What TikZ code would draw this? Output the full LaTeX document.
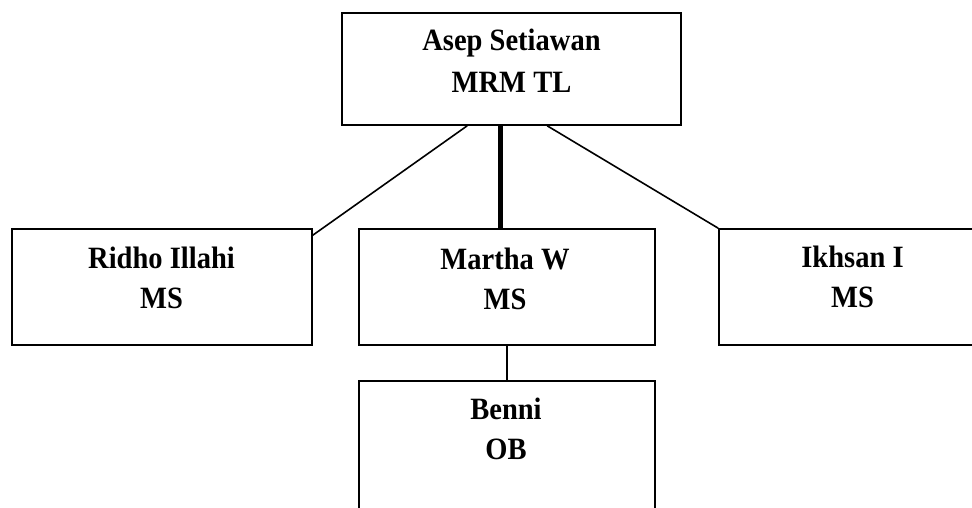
\documentclass[tikz,border=0pt]{standalone}
\usepackage{fontspec}
\setmainfont{Liberation Serif}[FakeStretch=0.92]
\usetikzlibrary{calc}
\begin{document}
\begin{tikzpicture}[x=1pt,y=-1pt,
  box/.style={draw, line width=1.6pt, rectangle, inner sep=0pt},
  lbl/.style={anchor=north, inner sep=0pt, align=center, font=\bfseries\fontsize{31}{40}\selectfont},
  lbltop/.style={lbl, font=\bfseries\fontsize{31}{42}\selectfont},
  thin/.style={line width=1.6pt},
  thick/.style={line width=5pt}]
\useasboundingbox (0,0) rectangle (972,508);
% boxes
\node[box, minimum width=339pt, minimum height=112pt] (top) at (511.5,69) {};
\node[box, minimum width=300pt, minimum height=116pt] (ridho) at (162,287) {};
\node[box, minimum width=296pt, minimum height=116pt] (martha) at (507,287) {};
\node[box, minimum width=267pt, minimum height=116pt] (ikhsan) at (852.5,287) {};
\node[box, minimum width=296pt, minimum height=180pt] (benni) at (507,471) {};
% texts
\node[lbltop] (ttop) at (511.5,28) {\rule{0pt}{22pt}Asep Setiawan\\MRM TL};
\node[lbl] (tridho) at (161.5,246) {\rule{0pt}{22pt}Ridho Illahi\\MS};
\node[lbl] (tmartha) at (505,247) {\rule{0pt}{22pt}Martha W\\MS};
\node[lbl] (tikhsan) at (852.5,245) {\rule{0pt}{22pt}Ikhsan I\\MS};
\node[lbl] (tbenni) at (506,397) {\rule{0pt}{22pt}Benni\\OB};
% connector points
\coordinate (topL) at ($(top.south west)+(126,0)$);
\coordinate (topM) at ($(top.south west)+(159,0)$);
\coordinate (topR) at ($(top.south west)+(206,0)$);
\coordinate (ridE) at ($(ridho.north east)+(0,7)$);
\coordinate (marT) at (martha.north -| topM);
% connectors
\draw[thin] (topL) -- (ridE);
\draw[thick] (topM) -- (marT);
\draw[thin] (topR) -- (ikhsan.north west);
\draw[thin] (martha.south) -- (benni.north);
\end{tikzpicture}
\end{document}
